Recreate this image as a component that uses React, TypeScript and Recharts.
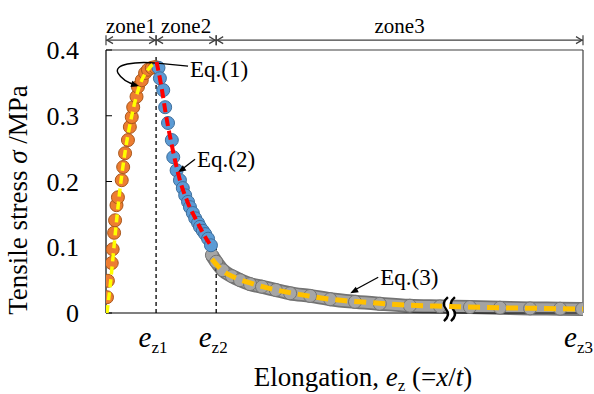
import React from 'react'
import {
  ComposedChart,
  Line,
  XAxis,
  YAxis,
  ReferenceLine,
  ReferenceDot,
} from 'recharts'

const SERIF = '"Liberation Serif", "Times New Roman", serif'
const serif = { fontFamily: SERIF }

// measured points, x in % of the elongation axis, y in MPa
const zone1X = [0.2, 0.4, 1.2, 1.4, 1.7, 1.9, 2.2, 2.5, 3.3, 3.6, 4.0, 4.6, 5.0, 5.4, 5.7, 6.4, 6.7, 7.5, 8.2, 8.8, 9.6, 10.3]
const zone1Y = [0.024, 0.049, 0.076, 0.097, 0.122, 0.141, 0.164, 0.176, 0.202, 0.222, 0.243, 0.263, 0.283, 0.298, 0.313, 0.329, 0.344, 0.354, 0.365, 0.37, 0.373, 0.374]

const zone2X = [11.0, 11.3, 12.0, 12.4, 13.0, 13.8, 14.1, 14.8, 15.5, 16.1, 16.6, 17.2, 17.6, 18.2, 18.7, 19.3, 19.7, 20.3, 20.8, 21.4, 22.0]
const zone2Y = [0.373, 0.357, 0.339, 0.313, 0.289, 0.263, 0.237, 0.217, 0.202, 0.19, 0.179, 0.169, 0.161, 0.152, 0.144, 0.137, 0.131, 0.125, 0.12, 0.113, 0.103]

const zone3X = [22.2, 23.1, 24.5, 26.4, 28.1, 30.2, 32.7, 35.6, 38.6, 42.8, 47.0, 52.2, 57.4, 63.7, 70.0, 76.3, 82.6, 88.9, 95.2, 99.8]
const zone3Y = [0.088, 0.078, 0.065, 0.056, 0.05, 0.044, 0.04, 0.035, 0.03, 0.026, 0.021, 0.017, 0.014, 0.011, 0.01, 0.009, 0.008, 0.007, 0.0065, 0.006]

// fitted curves Eq.(1)-(3)
const eq1X = [0.2, 1.0, 1.8, 2.8, 4.0, 5.4, 7.0, 8.8, 10.6]
const eq1Y = [0, 0.05, 0.11, 0.18, 0.245, 0.3, 0.345, 0.37, 0.382]
const eq2X = [10.6, 11.6, 12.6, 13.8, 15.5, 17.2, 18.8, 20.3, 22.2]
const eq2Y = [0.382, 0.345, 0.3, 0.255, 0.202, 0.167, 0.143, 0.122, 0.1]
const eq3X = [22.2, 24.5, 27, 30.5, 35, 40, 47, 55, 63, 72, 82, 91, 100]
const eq3Y = [0.082, 0.064, 0.054, 0.045, 0.036, 0.029, 0.021, 0.016, 0.012, 0.01, 0.008, 0.007, 0.006]

const zoneBounds = [0, 10.5, 23.1, 100]
const zoneLabels = ['zone1', 'zone2', 'zone3']
const xTicks = [10.5, 23.1, 100]
const xTickSubs = ['z1', 'z2', 'z3']
const yTicks = [0, 0.1, 0.2, 0.3, 0.4]

const toPoints = (xs: number[], ys: number[]) => xs.map((x, i) => ({ x, y: ys[i] }))

const zone1 = toPoints(zone1X, zone1Y)
const zone2 = toPoints(zone2X, zone2Y)
const zone3 = toPoints(zone3X, zone3Y)
const eq1 = toPoints(eq1X, eq1Y)
const eq2 = toPoints(eq2X, eq2Y)
const eq3 = toPoints(eq3X, eq3Y)

const dot = (fill: string, stroke: string) => (p: any) => (
  <circle key={p.index} cx={p.cx} cy={p.cy} r={6.5} fill={fill} stroke={stroke} strokeWidth={1} />
)

function XTick(props: any) {
  const { x, y, index } = props
  const last = index === xTicks.length - 1
  return (
    <text
      x={last ? x + 11 : x - 3}
      y={y + 34}
      textAnchor={last ? 'end' : 'middle'}
      style={serif}
      fill="#000"
    >
      <tspan fontStyle="italic" fontSize={29}>e</tspan>
      <tspan fontSize={17} dy={6}>{xTickSubs[index]}</tspan>
    </text>
  )
}

function YTick(props: any) {
  const { x, y, payload } = props
  return (
    <text x={x - 1} y={y + 9} textAnchor="end" style={serif} fontSize={26} fill="#000">
      {payload.value === 0 ? '0' : String(payload.value)}
    </text>
  )
}

function ZoneArrow(props: any, label: string) {
  const { x1, x2, y1 } = props
  const c = '#404040'
  return (
    <g>
      <line x1={x1} x2={x2} y1={y1} y2={y1} stroke={c} strokeWidth={1.2} />
      <line x1={x1} x2={x1} y1={y1 - 5} y2={y1 + 5} stroke={c} strokeWidth={1.2} />
      <line x1={x2} x2={x2} y1={y1 - 5} y2={y1 + 5} stroke={c} strokeWidth={1.2} />
      <polyline points={`${x1 + 7},${y1 - 3.5} ${x1 + 1},${y1} ${x1 + 7},${y1 + 3.5}`} fill="none" stroke={c} strokeWidth={1.2} />
      <polyline points={`${x2 - 7},${y1 - 3.5} ${x2 - 1},${y1} ${x2 - 7},${y1 + 3.5}`} fill="none" stroke={c} strokeWidth={1.2} />
      <text x={(x1 + x2) / 2} y={y1 - 7} textAnchor="middle" style={serif} fontSize={21} fill="#000">
        {label}
      </text>
    </g>
  )
}

function arrowHead(tx: number, ty: number, fx: number, fy: number) {
  const a = Math.atan2(ty - fy, tx - fx)
  const l = 8
  const w = 3.2
  const bx = tx - l * Math.cos(a)
  const by = ty - l * Math.sin(a)
  const px = -Math.sin(a) * w
  const py = Math.cos(a) * w
  return <polygon points={`${tx},${ty} ${bx + px},${by + py} ${bx - px},${by - py}`} fill="#000" />
}

function Eq1Note(p: any) {
  const { cx, cy } = p
  return (
    <g>
      <path
        d={`M ${cx + 31} ${cy + 3} L ${cx} ${cy} C ${cx - 22} ${cy - 2} ${cx - 44} ${cy + 1} ${cx - 39} ${cy + 10} C ${cx - 35} ${cy + 17} ${cx - 28} ${cy + 20} ${cx - 21} ${cy + 22}`}
        fill="none"
        stroke="#000"
        strokeWidth={1.4}
      />
      {arrowHead(cx - 18, cy + 23, cx - 28, cy + 20)}
      <text x={cx + 33} y={cy + 14} style={serif} fontSize={23} fill="#000">Eq.(1)</text>
    </g>
  )
}

function TextArrow(p: any, label: string, dx: number, dy: number) {
  const { cx, cy } = p
  return (
    <g>
      <line x1={cx + dx - 2} y1={cy + dy - 3} x2={cx + 4} y2={cy - 3} stroke="#000" strokeWidth={1.3} />
      {arrowHead(cx, cy, cx + dx, cy + dy - 3)}
      <text x={cx + dx} y={cy + dy + 5} style={serif} fontSize={23} fill="#000">{label}</text>
    </g>
  )
}

function BreakMark(p: any) {
  const { cx, cy } = p
  const s = (o: number) =>
    `M ${cx + o + 2} ${cy - 12} Q ${cx + o - 5} ${cy - 6} ${cx + o} ${cy} Q ${cx + o + 5} ${cy + 6} ${cx + o - 2} ${cy + 12}`
  return (
    <g>
      <path d={s(-1)} fill="none" stroke="#fff" strokeWidth={7} />
      <path d={s(-4)} fill="none" stroke="#000" strokeWidth={2.4} />
      <path d={s(3)} fill="none" stroke="#000" strokeWidth={2.4} />
    </g>
  )
}

const noAnim = { isAnimationActive: false, activeDot: false as const }

export default function App() {
  return (
    <div style={{ width: 594, height: 394, background: '#fff' }}>
      <style>{'body{margin:0}'}</style>
      <ComposedChart
        width={594}
        height={394}
        margin={{ top: 50, right: 11, bottom: 0, left: 0 }}
        style={serif}
      >
        <XAxis
          type="number"
          dataKey="x"
          domain={[0, 100]}
          ticks={xTicks}
          tick={<XTick />}
          tickLine={false}
          tickSize={0}
          tickMargin={0}
          height={81}
          axisLine={{ stroke: '#000', strokeWidth: 1.2 }}
          allowDataOverflow
          label={{
            content: () => (
              <text x={363} y={386} textAnchor="middle" style={serif} fontSize={27} fill="#000">
                Elongation,{' '}
                <tspan fontStyle="italic">e</tspan>
                <tspan fontSize={17} dy={5}>z</tspan>
                <tspan dy={-5}> (=</tspan>
                <tspan fontStyle="italic">x</tspan>/<tspan fontStyle="italic">t</tspan>)
              </text>
            ),
          }}
        />
        <YAxis
          type="number"
          dataKey="y"
          domain={[0, 0.4]}
          ticks={yTicks}
          tick={<YTick />}
          tickSize={-6}
          tickMargin={32}
          tickLine={{ stroke: '#000' }}
          width={106}
          axisLine={{ stroke: '#000', strokeWidth: 1.2 }}
          label={{
            content: () => (
              <text
                x={0}
                y={0}
                transform="translate(27 200) rotate(-90)"
                textAnchor="middle"
                style={serif}
                fontSize={27}
                fill="#000"
              >
                Tensile stress <tspan fontStyle="italic">σ</tspan> /MPa
              </text>
            ),
          }}
        />

        <ReferenceLine y={0.4} stroke="#404040" strokeWidth={1.2} />
        <ReferenceLine x={100} stroke="#404040" strokeWidth={1.2} />

        <Line data={zone3} dataKey="y" type="monotone" stroke="#737373" strokeWidth={14} dot={false} {...noAnim} />
        <Line data={zone3} dataKey="y" type="monotone" stroke="#a3a3a3" strokeWidth={10.5} dot={dot('#a6a6a6', '#737373')} {...noAnim} />
        <Line data={zone1} dataKey="y" stroke="none" dot={dot('#ed7d31', '#a9571c')} {...noAnim} />
        <Line data={zone2} dataKey="y" stroke="none" dot={dot('#5b9bd5', '#3f6f9c')} {...noAnim} />

        <Line data={eq1} dataKey="y" type="monotone" stroke="#ffff00" strokeWidth={3.5} strokeDasharray="8 5" dot={false} zIndex={700} {...noAnim} />
        <Line data={eq2} dataKey="y" type="monotone" stroke="#ff0000" strokeWidth={4} strokeDasharray="9 5" dot={false} zIndex={700} {...noAnim} />
        <Line data={eq3} dataKey="y" type="monotone" stroke="#ffc000" strokeWidth={5} strokeDasharray="12 7" dot={false} zIndex={700} {...noAnim} />

        <ReferenceLine
          segment={[{ x: xTicks[0], y: 0 }, { x: xTicks[0], y: 0.39 }]}
          stroke="#000"
          strokeWidth={1.3}
          strokeDasharray="4 3"
        />
        <ReferenceLine
          segment={[{ x: xTicks[1], y: 0 }, { x: xTicks[1], y: 0.107 }]}
          stroke="#000"
          strokeWidth={1.3}
          strokeDasharray="4 3"
        />

        {zoneLabels.map((lab, i) => (
          <ReferenceLine
            key={lab}
            segment={[{ x: zoneBounds[i], y: 0.415 }, { x: zoneBounds[i + 1], y: 0.415 }]}
            ifOverflow="visible"
            shape={(p: any) => ZoneArrow(p, lab)}
          />
        ))}

        <ReferenceDot x={10.7} y={0.38} r={0} ifOverflow="visible" shape={Eq1Note} />
        <ReferenceDot x={15.1} y={0.214} r={0} ifOverflow="visible" shape={(p: any) => TextArrow(p, 'Eq.(2)', 19, -10)} />
        <ReferenceDot x={51.2} y={0.03} r={0} ifOverflow="visible" shape={(p: any) => TextArrow(p, 'Eq.(3)', 30, -13)} />
        <ReferenceDot x={72.1} y={0.006} r={0} ifOverflow="visible" shape={BreakMark} />
      </ComposedChart>
    </div>
  )
}
